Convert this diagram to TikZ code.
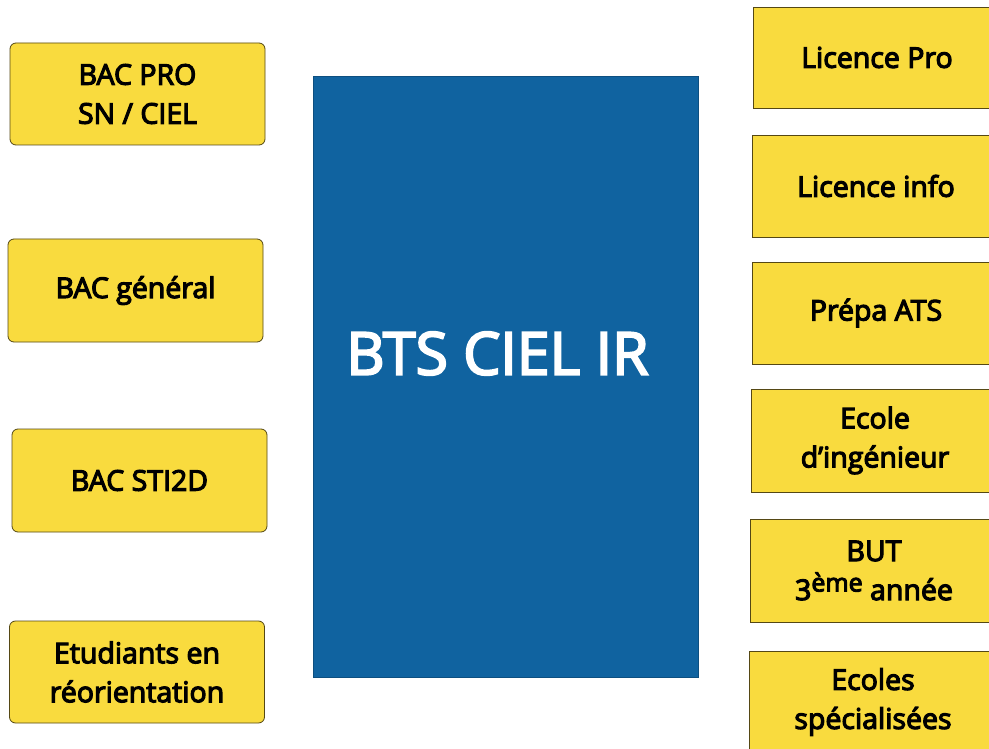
\documentclass[tikz,border=0pt]{standalone}
\usepackage{fontspec}
\setmainfont{Open Sans}
\newfontfamily\boxfont[FakeBold=4]{Open Sans}
\newfontfamily\btsfont[FakeBold=3.5]{Open Sans}
\definecolor{boxyellow}{RGB}{249,219,62}
\definecolor{boxedge}{RGB}{85,72,20}
\definecolor{btsblue}{RGB}{16,99,160}
\tikzset{
  leftbox/.style={draw=boxedge, line width=0.8pt, fill=boxyellow, rounded corners=6pt,
    minimum width=255pt, minimum height=102pt, inner sep=0pt, align=center,
    font=\boxfont\fontsize{28.5}{39}\selectfont, text=black},
  rightbox/.style={draw=boxedge, line width=0.8pt, fill=boxyellow,
    minimum width=248pt, minimum height=102pt, inner sep=0pt, align=center,
    font=\boxfont\fontsize{28.5}{39}\selectfont, text=black},
  centerbox/.style={draw=btsblue!80!black, line width=0.6pt, fill=btsblue,
    minimum width=385pt, minimum height=601pt, inner sep=0pt},
  btstext/.style={font=\btsfont\fontsize{59}{70}\selectfont, text=white, inner sep=0pt}
}
\begin{document}
\begin{tikzpicture}[x=1pt,y=-1pt]
\useasboundingbox (0,0) rectangle (989,749);
\clip (0,0) rectangle (989,749);
\fill[white] (0,0) rectangle (989,749);
% left column
\node[leftbox] (bacpro) at (137.5,94) {BAC PRO\\SN / CIEL};
\node[leftbox, minimum height=103pt] (bacgen) at (135.5,290.5) {BAC général};
\node[leftbox, minimum height=103pt] (sti) at (139.5,480.5) {BAC STI2D};
\node[leftbox] (reo) at (137,672) {Etudiants en\\réorientation};
% centre
\node[centerbox, label={[btstext, yshift=23pt, xshift=-8pt]center:BTS CIEL IR}] (bts) at (505.5,376.5) {};
% right column
\node[rightbox, minimum height=101pt] (lpro) at (877,57.5) {Licence Pro};
\node[rightbox] (linfo) at (876,186) {Licence info};
\node[rightbox] (ats) at (876,313) {Prépa ATS};
\node[rightbox, minimum height=103pt] (ing) at (875,440.5) {Ecole\\d’ingénieur};
\node[rightbox, minimum height=103pt] (but) at (874,570.5) {BUT\\3\raisebox{0.3em}{\fontsize{25}{30}\selectfont ème} année};
\node[rightbox] (spe) at (873,702) {Ecoles\\spécialisées};
\end{tikzpicture}
\end{document}
